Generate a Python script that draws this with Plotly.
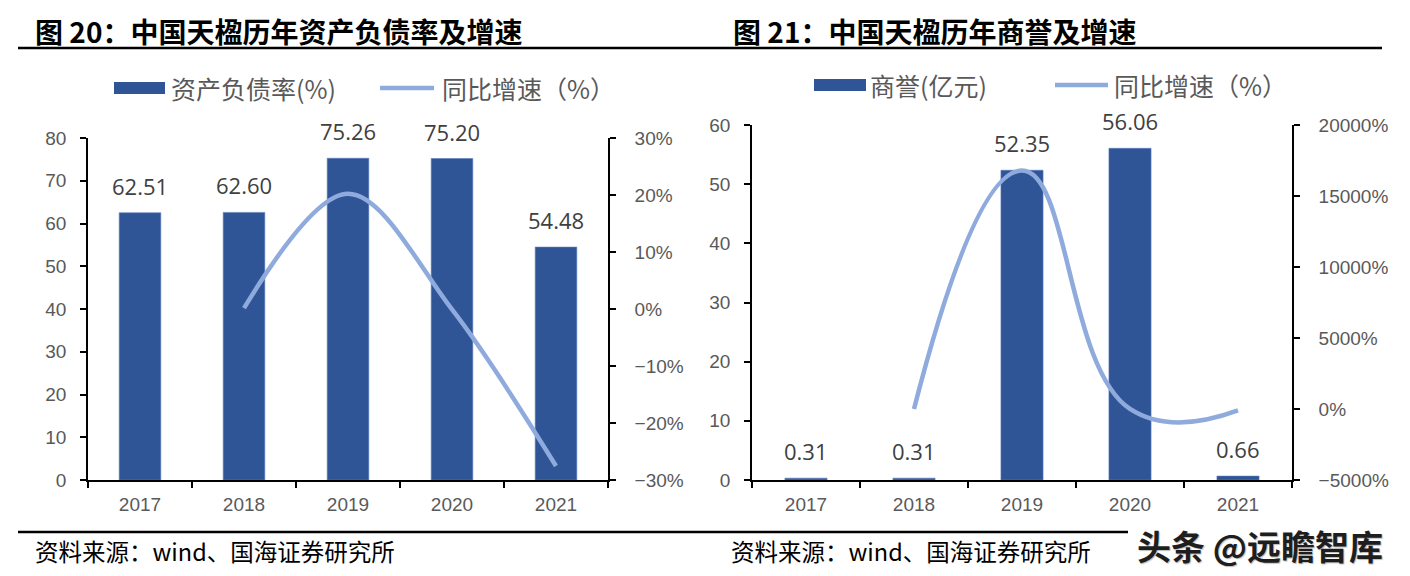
import plotly.graph_objects as go

# ---------------- data ----------------
years = ["2017", "2018", "2019", "2020", "2021"]
debt_ratio = [62.51, 62.60, 75.26, 75.20, 54.48]          # 资产负债率(%)
debt_growth = [None, 0.14, 20.22, -0.08, -27.55]           # 同比增速(%)
goodwill = [0.31, 0.31, 52.35, 56.06, 0.66]                # 商誉(亿元)
goodwill_growth = [None, 0.0, 16787.0, 7.09, -98.82]       # 同比增速(%)

left_title = "图 20：中国天楹历年资产负债率及增速"
right_title = "图 21：中国天楹历年商誉及增速"
left_bar_name = "资产负债率(%)"
right_bar_name = "商誉(亿元)"
line_name = "同比增速（%）"
source_text = "资料来源：wind、国海证券研究所"
watermark = "头条 @远瞻智库"

# ---------------- style ----------------
OFF = 8                      # page body margin
W, H = 1410 - OFF, 576 - OFF
BAR = "#2F5597"
LINE = "#8FAADC"
TICK_FONT = dict(family="Liberation Sans, Arial", size=19, color="#595959")
LABEL_FONT = dict(family="Open Sans, Liberation Sans", size=22, color="#404040")
CJK = "Noto Sans CJK SC"


def px(x):
    return (x - OFF) / W


def py(y):
    return 1 - (y - OFF) / H


fig = go.Figure()

# left chart
fig.add_trace(go.Bar(x=years, y=debt_ratio, name=left_bar_name,
                     marker=dict(color=BAR, line=dict(color="#5a7cbc", width=0.6)),
                     xaxis="x", yaxis="y", showlegend=False, width=0.4))
fig.add_trace(go.Scatter(x=years, y=debt_growth, name=line_name, mode="lines",
                         line=dict(color=LINE, width=4.5, shape="spline", smoothing=1.0),
                         xaxis="x", yaxis="y2", showlegend=False))
# right chart
fig.add_trace(go.Bar(x=years, y=goodwill, name=right_bar_name,
                     marker=dict(color=BAR, line=dict(color="#5a7cbc", width=0.6)),
                     xaxis="x2", yaxis="y3", showlegend=False, width=0.39))
fig.add_trace(go.Scatter(x=years, y=goodwill_growth, name=line_name, mode="lines",
                         line=dict(color=LINE, width=4.5, shape="spline", smoothing=1.3),
                         xaxis="x2", yaxis="y4", showlegend=False))

axis_common = dict(showline=True, linecolor="black", linewidth=1.6, ticks="outside",
                   tickcolor="black", tickwidth=1.6, ticklen=6, showgrid=False, zeroline=False,
                   tickfont=TICK_FONT, fixedrange=True, automargin=False)

xl = [px(88), px(608)]
yl = [py(480), py(138)]
xr = [px(752), px(1292)]
yr = [py(480), py(125)]
cat_range = [-0.5, len(years) - 0.5]

fig.update_layout(
    width=W, height=H,
    autosize=False,
    margin=dict(l=0, r=0, t=0, b=0, pad=0, autoexpand=False),
    paper_bgcolor="white", plot_bgcolor="white",
    xaxis=dict(domain=xl, anchor="y", type="category", range=cat_range, tickson="boundaries",
               ticklabelstandoff=6, **axis_common),
    yaxis=dict(domain=yl, anchor="x", range=[0, 80], dtick=10, ticklabelstandoff=10, **axis_common),
    yaxis2=dict(overlaying="y", anchor="x", side="right", range=[-30, 30], dtick=10, ticksuffix="%",
                ticklabelstandoff=15, **axis_common),
    xaxis2=dict(domain=xr, anchor="y3", type="category", range=cat_range, tickson="boundaries",
                ticklabelstandoff=6, **axis_common),
    yaxis3=dict(domain=yr, anchor="x2", range=[0, 60], dtick=10, ticklabelstandoff=10, **axis_common),
    yaxis4=dict(overlaying="y3", anchor="x2", side="right", range=[-5000, 20000], dtick=5000,
                tickformat="d", ticksuffix="%", ticklabelstandoff=15, **axis_common),
)

annotations = []
# data labels (x given as category index)
for i, v in enumerate(debt_ratio):
    annotations.append(dict(x=i, y=v, xref="x", yref="y", text=f"{v:.2f}", showarrow=False,
                            yanchor="middle", yshift=27, font=LABEL_FONT))
for i, v in enumerate(goodwill):
    annotations.append(dict(x=i, y=v, xref="x2", yref="y3", text=f"{v:.2f}", showarrow=False,
                            yanchor="middle", yshift=27, font=LABEL_FONT))

title_font = dict(family=CJK, size=28, color="black", weight="bold")
annotations.append(dict(x=px(33), y=py(31), xref="paper", yref="paper", text=f"<b>{left_title}</b>",
                        showarrow=False, xanchor="left", yanchor="middle", font=title_font))
annotations.append(dict(x=px(731), y=py(31), xref="paper", yref="paper", text=f"<b>{right_title}</b>",
                        showarrow=False, xanchor="left", yanchor="middle", font=title_font))

legend_font = dict(family=CJK, size=25, color="#595959")
for x0, text in [(169, left_bar_name), (440, line_name)]:
    annotations.append(dict(x=px(x0), y=py(88), xref="paper", yref="paper", text=text, showarrow=False,
                            xanchor="left", yanchor="middle", font=legend_font))
for x0, text in [(868, right_bar_name), (1112, line_name)]:
    annotations.append(dict(x=px(x0), y=py(85), xref="paper", yref="paper", text=text, showarrow=False,
                            xanchor="left", yanchor="middle", font=legend_font))

src_font = dict(family=CJK, size=23.5, color="black")
annotations.append(dict(x=px(33), y=py(551), xref="paper", yref="paper", text=source_text, showarrow=False,
                        xanchor="left", yanchor="middle", font=src_font))
annotations.append(dict(x=px(729), y=py(551), xref="paper", yref="paper", text=source_text, showarrow=False,
                        xanchor="left", yanchor="middle", font=src_font))
annotations.append(dict(x=px(1260), y=py(545), xref="paper", yref="paper", text=watermark, showarrow=False,
                        xanchor="center", yanchor="middle",
                        font=dict(family=CJK, size=34, color="#1e1e1e", weight="bold",
                                  shadow="1px 1px 1px #bbbbbb")))
fig.update_layout(annotations=annotations)

shapes = [
    # title rules
    dict(type="line", xref="paper", yref="paper", x0=px(18), x1=px(1382), y0=py(48), y1=py(48),
         line=dict(color="black", width=2.5)),
    # footer rules
    dict(type="line", xref="paper", yref="paper", x0=px(18), x1=px(1128), y0=py(532), y1=py(532),
         line=dict(color="black", width=2.5)),
    # legends: left
    dict(type="rect", xref="paper", yref="paper", x0=px(114), x1=px(165), y0=py(94), y1=py(82),
         fillcolor=BAR, line=dict(width=0)),
    dict(type="line", xref="paper", yref="paper", x0=px(380), x1=px(434), y0=py(88), y1=py(88),
         line=dict(color=LINE, width=4.5)),
    # legends: right
    dict(type="rect", xref="paper", yref="paper", x0=px(814), x1=px(866), y0=py(91), y1=py(79),
         fillcolor=BAR, line=dict(width=0)),
    dict(type="line", xref="paper", yref="paper", x0=px(1055), x1=px(1108), y0=py(85), y1=py(85),
         line=dict(color=LINE, width=4.5)),
]
fig.update_layout(shapes=shapes)

fig.write_html("out.html", config={"responsive": False})
